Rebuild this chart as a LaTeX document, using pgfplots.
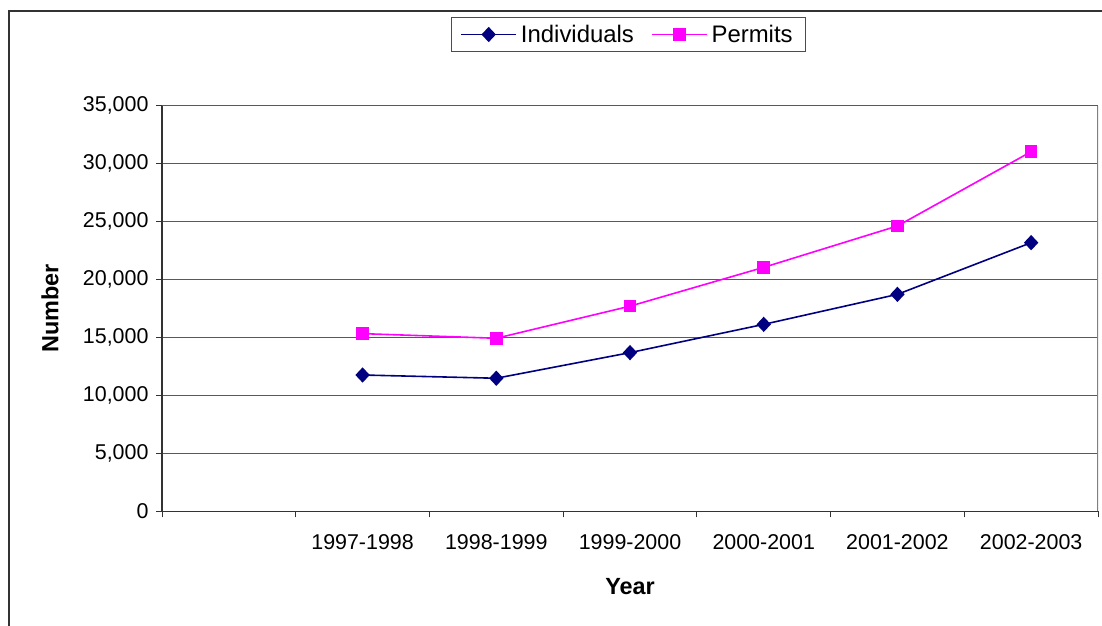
\documentclass[border=0pt]{standalone}
\usepackage{pgfplots}
\pgfplotsset{compat=1.18}
\usepackage{fontspec}
\setmainfont{Liberation Sans}
\definecolor{navyc}{HTML}{000080}
\definecolor{magc}{HTML}{FF00FF}
\begin{document}
\begin{tikzpicture}[x=1bp,y=1bp]
\path[use as bounding box] (0,0) rectangle (1102,626);
\draw[line width=2bp, color=black!80] (8.5,0) -- (8.5,614.5) -- (1102,614.5);
\begin{axis}[
  at={(162bp,114.7bp)}, anchor=south west,
  scale only axis, width=936bp, height=405.6bp,
  xmin=-0.5, xmax=6.5, ymin=0, ymax=35000,
  xtick={-0.5,0.5,1.5,2.5,3.5,4.5,5.5,6.5},
  x tick label as interval,
  xticklabels={{},1997-1998,1998-1999,1999-2000,2000-2001,2001-2002,2002-2003},
  ytick={0,5000,10000,15000,20000,25000,30000,35000},
  scaled y ticks=false,
  /pgf/number format/.cd, fixed, 1000 sep={,}, assume math mode=true,
  /pgfplots/.cd,
  axis x line*=bottom, axis y line*=left,
  axis line style={black!80, line width=1.2bp, -},
  ymajorgrids, grid style={black!65, line width=1.1bp},
  tick align=outside, major tick length=6bp,
  tick style={black!80, line width=1bp},
  ticklabel style={font=\fontsize{21.5}{25}\selectfont},
  xticklabel style={yshift=-14bp},
  yticklabel style={xshift=-4bp},
  xlabel={\textbf{Year}}, ylabel={\textbf{Number}},
  label style={font=\fontsize{23.5}{27}\selectfont},
  xlabel style={at={(0.5,-0.186)}, anchor=center},
  ylabel style={at={(-0.1197,0.5)}, anchor=center},
  legend columns=2,
  legend style={at={(0.4984,1.1755)}, anchor=center, draw=black!70, line width=1bp,
    font=\fontsize{24}{28}\selectfont, inner xsep=9bp, inner ysep=3bp,
    nodes={inner xsep=4bp, inner ysep=5bp},
    /tikz/every even column/.append style={column sep=13bp}},
  legend image code/.code={\draw[mark repeat=2,mark phase=2,#1,line width=1.6bp] plot coordinates {(0bp,0bp) (27.5bp,0bp) (55bp,0bp)};},
]
\addplot[navyc, line width=1.6bp, mark=diamond*, mark size=6.5bp, mark options={xscale=1.25, solid}]
  coordinates {(1,11760) (2,11480) (3,13690) (4,16130) (5,18720) (6,23180)};
\addlegendentry{Individuals}
\addplot[magc, line width=1.6bp, mark=square*, mark size=5.5bp, mark options={solid}]
  coordinates {(1,15330) (2,14930) (3,17700) (4,21050) (5,24620) (6,31030)};
\addlegendentry{Permits}
\draw[black!50, line width=1.2bp] (rel axis cs:1,0) -- (rel axis cs:1,1);
\end{axis}
\end{tikzpicture}
\end{document}
